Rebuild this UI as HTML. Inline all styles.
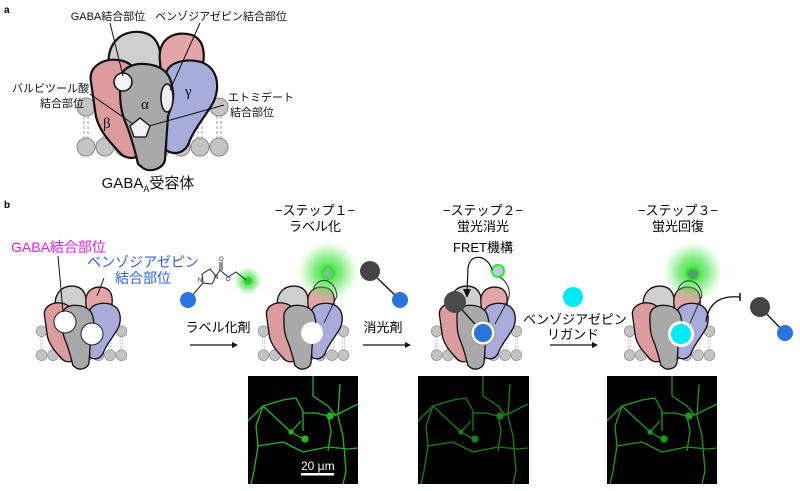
<!DOCTYPE html>
<html><head><meta charset="utf-8"><style>
html,body{margin:0;padding:0;background:#fff;width:800px;height:491px;overflow:hidden}
svg{display:block;font-family:"Liberation Sans","Noto Sans CJK JP",sans-serif}
</style></head><body>
<svg width="800" height="491" viewBox="0 0 800 491" xmlns="http://www.w3.org/2000/svg">
<defs>
<radialGradient id="glow"><stop offset="0" stop-color="#22dd22" stop-opacity="0.95"/><stop offset="0.5" stop-color="#44e044" stop-opacity="0.6"/><stop offset="1" stop-color="#66ee66" stop-opacity="0"/></radialGradient>
<g id="lip">
 <g stroke="#999" stroke-width="1" stroke-dasharray="3,2">
  <path d="M84,116V138M88,116V138M103,116V138M107,116V138M122,116V138M126,116V138M198,116V138M202,116V138M217,116V138M221,116V138"/>
 </g>
 <g fill="#c4c4c4" stroke="#888" stroke-width="1">
  <circle cx="86" cy="107" r="9"/><circle cx="105" cy="107" r="9"/><circle cx="124" cy="107" r="9"/><circle cx="143" cy="107" r="9"/><circle cx="162" cy="107" r="9"/><circle cx="181" cy="107" r="9"/><circle cx="200" cy="107" r="9"/><circle cx="219" cy="107" r="9"/>
  <circle cx="86" cy="147" r="9"/><circle cx="105" cy="147" r="9"/><circle cx="124" cy="147" r="9"/><circle cx="143" cy="147" r="9"/><circle cx="162" cy="147" r="9"/><circle cx="181" cy="147" r="9"/><circle cx="200" cy="147" r="9"/><circle cx="219" cy="147" r="9"/>
 </g>
</g>
<g id="rec" stroke="#111" stroke-width="2.2" stroke-linejoin="round">
 <use href="#lip"/>
 <path d="M110,72 C104,45 120,30 140,32 C158,34 163,50 160,72 L158,118 L115,118 Z" fill="#cfcfcf"/>
 <path d="M160,62 C157,38 175,30 192,35 C207,41 206,62 198,78 L195,118 L165,118 Z" fill="#e3a5a7"/>
 <path d="M91,82 C88,66 104,58 118,60 C135,62 140,75 140,90 L142,150 C140,160 126,160 120,153 C110,142 100,132 96,117 Z" fill="#dc9c9e"/>
 <path d="M166,74 C168,62 186,58 201,62 C218,68 220,86 214,101 C206,116 196,126 190,140 C186,153 175,156 166,150 Z" fill="#a8acdb"/>
 <path d="M120,86 C118,70 130,63 145,64 C160,65 170,72 172,86 C175,96 172,106 168,116 L165,160 C163,169 150,173 143,168 L138,164 C135,150 132,140 127,126 C120,111 120,100 120,86 Z" fill="#a9a9a9"/>
</g>
<g id="cell" fill="none" stroke="#1fb81f" stroke-width="1.3" stroke-linejoin="round">
 <path d="M0,45 L15,30 L35,24 L48,22 L55,35 L55,55 M15,30 L8,50 L10,70 L6,95 L3,108 M15,30 L30,44 L43,56 L55,63 M43,56 L53,45 M10,70 L35,66 L55,76 L80,71 L100,73 L110,72 M55,37 L68,37 L80,40 L83,55 L80,75 M65,0 L65,20 L80,30 L88,40 M92,8 L90,40 L95,60 L98,95 L95,108 M80,40 L90,38 L110,28"/>
 <circle cx="57" cy="63" r="3" fill="#1fb81f"/><circle cx="82" cy="40" r="3" fill="#1fb81f"/><circle cx="43" cy="56" r="2" fill="#1fb81f"/>
</g>
</defs>

<text x="4" y="13" font-size="10" font-weight="bold">a</text>
<text x="4" y="208" font-size="10" font-weight="bold">b</text>

<!-- panel a -->
<use href="#rec"/>
<circle cx="123" cy="82" r="9" fill="#f4f4f4" stroke="#111" stroke-width="1.5"/>
<ellipse cx="167" cy="98" rx="6" ry="14" fill="#eee" stroke="#111" stroke-width="1.5"/>
<polygon points="140,118 150,126 146,137 134,137 130,126" fill="#f2f2f2" stroke="#111" stroke-width="1.3"/>
<g stroke="#111" stroke-width="1" fill="none">
 <path d="M110,23 L123,76"/><path d="M200,23 L170,90"/><path d="M90,94 L133,124"/><path d="M224,105 L149,126"/>
</g>
<g font-size="11" fill="#111">
 <text x="108" y="20" text-anchor="middle">GABA結合部位</text>
 <text x="221" y="20" text-anchor="middle">ベンゾジアゼピン結合部位</text>
 <text x="89" y="92" text-anchor="end">バルビツール酸</text>
 <text x="84" y="107" text-anchor="end">結合部位</text>
 <text x="228" y="101">エトミデート</text>
 <text x="230" y="116">結合部位</text>
 <text x="148" y="188" text-anchor="middle" font-size="15">GABA<tspan font-size="9" dy="4">A</tspan><tspan dy="-4">受容体</tspan></text>
</g>
<g font-size="15" font-family="Liberation Serif,serif" fill="#111">
 <text x="103" y="128">β</text><text x="141" y="109">α</text><text x="185" y="96">γ</text>
</g>

<!-- panel b receptors -->
<g transform="translate(-10,267) scale(0.6)"><use href="#rec"/></g>
<circle cx="65" cy="322" r="11" fill="#fff" stroke="#222" stroke-width="1"/>
<circle cx="92" cy="334" r="11" fill="#fff" stroke="#222" stroke-width="1"/>
<path d="M58,256 L63,312 M104,278 L97,296" stroke="#111" stroke-width="1"/>
<text x="11" y="252" font-size="14" fill="#e81ce8">GABA結合部位</text>
<text x="143" y="267" font-size="14" fill="#3060ee" text-anchor="middle">ベンゾジアゼピン</text>
<text x="143" y="283" font-size="14" fill="#3060ee" text-anchor="middle">結合部位</text>

<!-- reagent -->
<circle cx="248" cy="281" r="14" fill="url(#glow)"/>
<circle cx="248" cy="281" r="4" fill="#3c3"/>
<g stroke="#222" stroke-width="1" fill="none">
 <path d="M202,274 L210,269 L216,276 L212,284 L203,283 Z"/>
 <path d="M203,283 L190,298"/><path d="M216,276 L220,270 L228,277 L236,272 L246,280"/><path d="M220,270 L220,262 M222,270 L222,262"/>
</g>
<g font-size="6" fill="#222"><text x="198" y="282">N</text><text x="214" y="279">N</text><text x="219" y="261">O</text><text x="226" y="281">O</text></g>
<circle cx="188" cy="300" r="8" fill="#2a74e0"/>
<text x="218" y="332" font-size="13" text-anchor="middle">ラベル化剤</text>
<path d="M190,345 H232" stroke="#111" stroke-width="1.3"/><path d="M232,342 L238,345 L232,348Z" fill="#111"/>

<!-- step1 -->
<text x="315" y="215" font-size="13" text-anchor="middle">−ステップ１−</text>
<text x="315" y="231" font-size="13" text-anchor="middle">ラベル化</text>
<g transform="translate(212,267) scale(0.6)"><use href="#rec"/></g>
<circle cx="328" cy="272" r="30" fill="url(#glow)"/>
<path d="M313,290 C318,275 335,278 337,296 L324,323" stroke="#333" stroke-width="1" fill="none"/>
<circle cx="328" cy="273" r="6" fill="#7bbf90" stroke="#2e2" stroke-width="2"/>
<circle cx="312" cy="333" r="11" fill="#fff"/>

<!-- quencher -->
<path d="M372,273 L398,298" stroke="#222" stroke-width="1.5"/>
<circle cx="370" cy="271" r="10" fill="#444"/>
<circle cx="400" cy="300" r="8" fill="#2a74e0"/>
<text x="383" y="332" font-size="13" text-anchor="middle">消光剤</text>
<path d="M363,345 H405" stroke="#111" stroke-width="1.3"/><path d="M405,342 L411,345 L405,348Z" fill="#111"/>

<!-- step2 -->
<text x="483" y="215" font-size="13" text-anchor="middle">−ステップ２−</text>
<text x="483" y="231" font-size="13" text-anchor="middle">蛍光消光</text>
<text x="483" y="252" font-size="13" text-anchor="middle">FRET機構</text>
<g transform="translate(385,267) scale(0.6)"><use href="#rec"/></g>
<path d="M455,302 L483,333" stroke="#222" stroke-width="1.5"/>
<circle cx="455" cy="302" r="11" fill="#4a4a4a"/>
<path d="M495,324 L508,300 C512,290 506,280 499,277" stroke="#222" stroke-width="1" fill="none"/>
<circle cx="498" cy="271" r="6" fill="#c0c8ee" stroke="#2e2" stroke-width="2"/>
<path d="M492,270 C488,255 470,252 468,268 L467,292" stroke="#111" stroke-width="1.2" fill="none"/>
<path d="M463,289 L467,298 L471,289Z" fill="#111"/>
<circle cx="483" cy="333" r="12" fill="#fff" stroke="#888" stroke-width="0.8"/>
<circle cx="483" cy="333" r="9" fill="#2a74e0"/>

<!-- ligand -->
<circle cx="573" cy="297" r="10" fill="#00ecf4"/>
<text x="575" y="324" font-size="13" text-anchor="middle">ベンゾジアゼピン</text>
<text x="573" y="339" font-size="13" text-anchor="middle">リガンド</text>
<path d="M550,345 H592" stroke="#111" stroke-width="1.3"/><path d="M592,342 L598,345 L592,348Z" fill="#111"/>

<!-- step3 -->
<text x="678" y="215" font-size="13" text-anchor="middle">−ステップ３−</text>
<text x="678" y="231" font-size="13" text-anchor="middle">蛍光回復</text>
<g transform="translate(578,267) scale(0.6)"><use href="#rec"/></g>
<circle cx="693" cy="272" r="30" fill="url(#glow)"/>
<path d="M678,290 C682,276 700,278 702,296 L690,323" stroke="#333" stroke-width="1" fill="none"/>
<circle cx="693" cy="274" r="6" fill="#5d9a72" stroke="#2e2" stroke-width="2"/>
<path d="M706,322 C708,305 718,295 740,297" stroke="#111" stroke-width="1.3" fill="none"/>
<path d="M740,293 V301" stroke="#111" stroke-width="1.5"/>
<circle cx="681" cy="334" r="13" fill="#fff"/>
<circle cx="681" cy="334" r="10" fill="#00ecf4"/>
<path d="M760,307 L785,333" stroke="#222" stroke-width="1.5"/>
<circle cx="760" cy="307" r="10" fill="#444"/>
<circle cx="785" cy="333" r="8" fill="#2a74e0"/>

<!-- micrographs -->
<rect x="248" y="376" width="110" height="108" fill="#000"/>
<g transform="translate(248,376)"><use href="#cell"/></g>
<rect x="418" y="376" width="111" height="108" fill="#000"/>
<g transform="translate(418,376)" opacity="0.7"><use href="#cell"/></g>
<rect x="607" y="376" width="110" height="108" fill="#000"/>
<g transform="translate(607,376)" opacity="0.85"><use href="#cell"/></g>
<text x="301" y="470" font-size="12" fill="#fff">20 μm</text>
<rect x="301" y="473" width="33" height="2.5" fill="#fff"/>
</svg>
</body></html>
